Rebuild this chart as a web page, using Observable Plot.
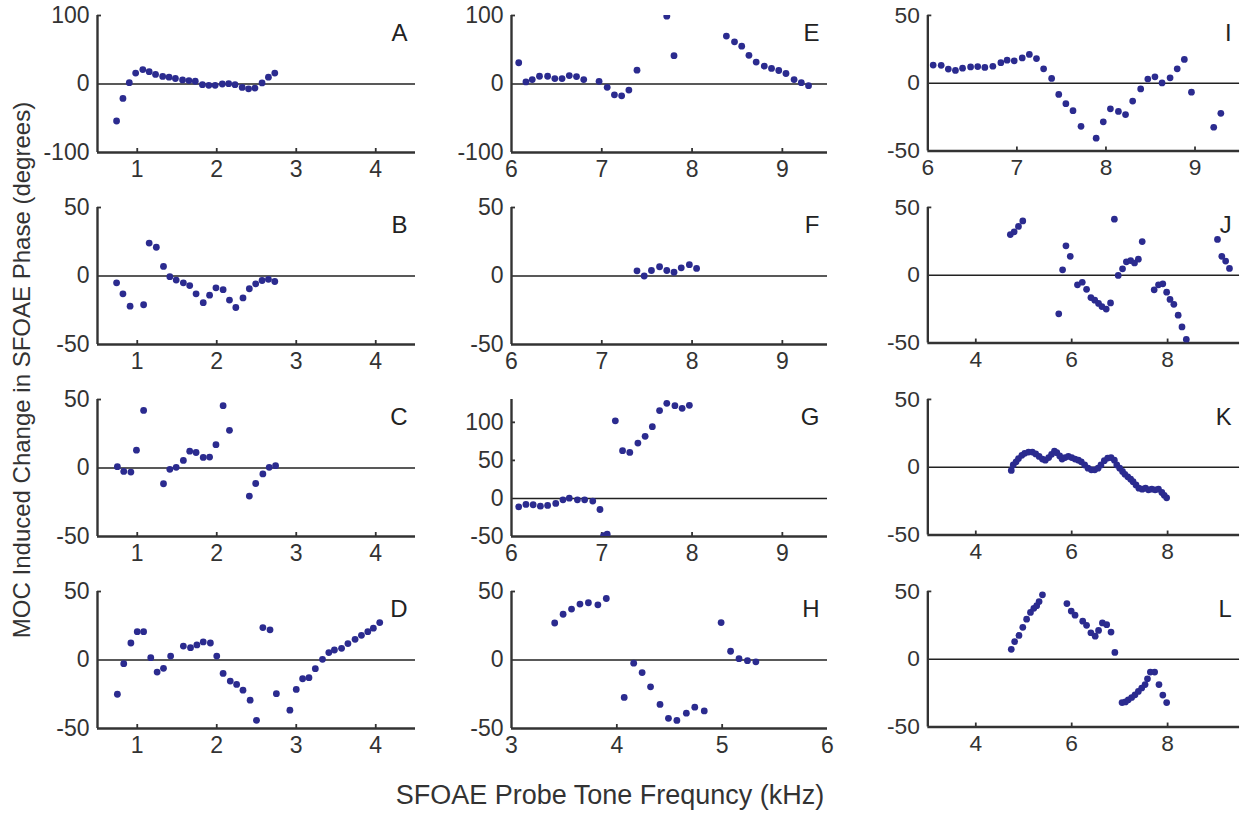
<!DOCTYPE html>
<html><head><meta charset="utf-8">
<script src="https://cdn.jsdelivr.net/npm/d3@7"></script>
<script src="https://cdn.jsdelivr.net/npm/@observablehq/plot@0.6"></script>
<style>
body{margin:0;background:#fff;}
#wrap{position:relative;width:1245px;height:814px;overflow:hidden;font-family:"Liberation Sans",Arial,sans-serif;color:#333;}
.panel{position:absolute;}
#ylab{position:absolute;left:22px;top:370px;transform:translate(-50%,-50%) rotate(-90deg);white-space:nowrap;font-size:24px;}
#xlab{position:absolute;left:610px;top:795px;transform:translate(-50%,-50%);white-space:nowrap;font-size:27px;}
</style></head>
<body><div id="wrap"><div id="ylab">MOC Induced Change in SFOAE Phase (degrees)</div><div id="xlab">SFOAE Probe Tone Frequncy (kHz)</div></div>
<script>
// ---- data (kHz, degrees) ----
const A_freq = [0.74,0.82,0.90,0.98,1.07,1.15,1.23,1.32,1.40,1.48,1.57,1.65,1.73,1.82,1.90,1.98,2.07,2.15,2.23,2.32,2.40,2.48,2.57,2.65,2.73];
const A_phase = [-54,-21,2,16,21,18,14,11,10,8,6,5,4,-1,-2,-2,0,0.5,-1,-5,-7,-6,1.5,10,16];
const B_freq = [0.74,0.82,0.91,1.08,1.15,1.24,1.33,1.41,1.49,1.58,1.66,1.74,1.83,1.91,1.99,2.08,2.16,2.24,2.33,2.41,2.49,2.57,2.65,2.73];
const B_phase = [-5,-13,-22,-21,24,21,7,-0.5,-3,-5,-7,-13,-19.5,-14,-8.6,-10,-17.6,-23,-16,-9.3,-5.7,-3.3,-2.4,-4];
const C_freq = [0.75,0.83,0.92,0.99,1.08,1.33,1.41,1.49,1.58,1.66,1.74,1.83,1.91,1.99,2.08,2.16,2.41,2.49,2.58,2.66,2.74];
const C_phase = [1,-2.5,-3,13,42,-11.5,-1,0.5,5.5,12.3,11.3,7.7,8,17,45.5,27.5,-20.5,-11.3,-4.3,0.5,1.7];
const D_freq = [0.75,0.83,0.92,1.0,1.08,1.17,1.25,1.33,1.42,1.58,1.67,1.75,1.83,1.92,2.0,2.08,2.17,2.25,2.33,2.42,2.5,2.58,2.67,2.75,2.92,3.0,3.08,3.16,3.24,3.33,3.41,3.48,3.57,3.65,3.74,3.82,3.9,3.97,4.05];
const D_phase = [-25,-2.7,12.4,20.7,20.7,1.7,-8.8,-6.1,2.9,10.2,9,11,13.2,12.4,2.9,-9.8,-15.4,-17.8,-22,-29.3,-44,23.7,22,-24.6,-36.6,-21.5,-13.7,-12.9,-6.3,0.5,5.4,7.3,8.5,12,15.1,18,20.7,23.2,27.3];
const E_freq = [6.08,6.16,6.23,6.31,6.40,6.48,6.56,6.64,6.72,6.80,6.97,7.06,7.14,7.22,7.30,7.39,7.72,7.80,8.38,8.47,8.55,8.63,8.71,8.80,8.88,8.96,9.04,9.13,9.21,9.29];
const E_phase = [31,3,6.4,11.3,11.3,7.9,7.9,12.3,10.8,6.4,3.9,-4.9,-15.8,-17.2,-8.9,20.2,99,41.4,70,61.6,55.2,41.9,32,26.1,22.7,19.7,15.3,6.4,2,-2.5];
const F_freq = [7.39,7.47,7.55,7.64,7.72,7.80,7.88,7.97,8.05];
const F_phase = [3.75,0,4,6.75,4,2.75,6,8.25,5.5];
const G_freq = [6.08,6.16,6.24,6.32,6.40,6.49,6.57,6.64,6.73,6.81,6.90,6.98,7.02,7.06,7.15,7.23,7.31,7.40,7.48,7.56,7.64,7.72,7.81,7.89,7.97];
const G_phase = [-11,-7.9,-8.3,-10.1,-9.2,-6.6,-1.8,0.4,-1.8,-1.8,-3.5,-14.5,-49,-47,102,62.7,60.5,72.8,81.6,94.3,115.4,125,121.9,118.4,122.4];
const H_freq = [3.41,3.49,3.57,3.65,3.73,3.82,3.90,4.07,4.16,4.24,4.32,4.41,4.49,4.57,4.66,4.74,4.83,4.99,5.08,5.16,5.24,5.32];
const H_phase = [27,33.4,37.2,40.8,41.8,40.3,44.9,-27.3,-2.3,-9.2,-19.6,-32.4,-42.6,-44.1,-38.8,-34.4,-37.2,27.3,6.4,1,-0.5,-1.3];
const I_freq = [6.06,6.15,6.23,6.31,6.39,6.48,6.56,6.64,6.73,6.82,6.89,6.97,7.06,7.14,7.22,7.30,7.39,7.47,7.55,7.63,7.72,7.89,7.97,8.05,8.14,8.22,8.30,8.39,8.47,8.55,8.63,8.72,8.80,8.88,8.96,9.21,9.29];
const I_phase = [13.4,13.2,10.4,9.4,11.1,12,12.3,11.6,12.5,15.1,17,16.5,18.6,21.2,18.2,10.6,3.5,-8.3,-15.1,-20.3,-31.8,-40.6,-28.5,-18.9,-20.8,-23.1,-13.2,-4.2,3.1,4.7,0.2,4,10.6,17.5,-6.6,-32.5,-22.2];
const J_freq = [4.72,4.80,4.89,4.98,5.73,5.81,5.88,5.97,6.12,6.22,6.31,6.40,6.48,6.56,6.63,6.72,6.81,6.89,6.97,7.06,7.14,7.23,7.31,7.39,7.47,7.72,7.81,7.90,7.98,8.05,8.13,8.22,8.30,8.39,9.04,9.13,9.21,9.29];
const J_phase = [30,32,36,40,-28.5,4,21.7,13.9,-7.1,-5.2,-10.4,-16.5,-18.4,-20.8,-23.1,-25,-20.5,41.3,-0.2,4.7,9.9,10.8,9,11.8,24.8,-10.8,-7.1,-6.4,-12.5,-17.9,-21.5,-29.5,-38.2,-47.4,26.4,13.9,10.4,5];
const K_freq = [4.74,4.78,4.84,4.89,4.96,5.02,5.10,5.18,5.25,5.32,5.39,5.45,5.52,5.58,5.64,5.69,5.75,5.80,5.86,5.93,6.00,6.07,6.14,6.20,6.27,6.34,6.41,6.48,6.55,6.61,6.68,6.75,6.82,6.89,6.94,7.00,7.06,7.11,7.17,7.23,7.28,7.34,7.40,7.47,7.54,7.60,7.67,7.74,7.81,7.88,7.93,7.98];
const K_phase = [-2.4,1.7,4,6.4,8.8,10.2,11.2,11.2,9.8,7.9,6,5.2,7.1,9.5,11.9,10.7,8.3,6,7.1,7.9,7.1,6,5.2,4,1.7,-0.7,-1.9,-1.9,-0.7,1.7,4.8,6.7,7.1,5.2,1.7,-0.7,-3.1,-5.2,-7.1,-8.8,-10.7,-13.1,-15.5,-16.2,-15.5,-16.7,-16.2,-16.7,-16.2,-18.6,-20.7,-22.6];
const L_freq = [4.74,4.81,4.90,4.98,5.06,5.14,5.21,5.27,5.32,5.39,5.90,5.99,6.07,6.23,6.31,6.40,6.49,6.56,6.64,6.73,6.82,6.90,7.05,7.12,7.18,7.25,7.32,7.39,7.46,7.53,7.58,7.64,7.73,7.82,7.90,7.98];
const L_phase = [7.25,13,17.5,23.5,29.5,34.5,37.5,39.5,42.5,47.5,41,35.5,32.5,28,25,19.5,17,21.25,26.75,25.5,20,5,-32,-31.5,-30,-28.25,-26.25,-23.75,-21.25,-18.75,-14.5,-9.5,-9.5,-18.75,-26.5,-32];

// ---- axes: domains and tick labels ----
const xDomLow = [0.5, 4.5], xDomHigh = [6, 9.5], xDomH = [3, 6], xDomWide = [3, 9.5];
const xTicksLow = [1, 2, 3, 4], xTicksHigh = [6, 7, 8, 9], xTicksH = [3, 4, 5, 6], xTicksWide = [4, 6, 8];
const yDom100 = [-100, 100], yDom50 = [-50, 50], yDomG = [-50, 130];
const yTicks100 = [-100, 0, 100], yTicks50 = [-50, 0, 50], yTicksG = [-50, 0, 50, 100];
const letters = ["A","B","C","D","E","F","G","H","I","J","K","L"];

const panels = [
  {fx:A_freq, fy:A_phase, xd:xDomLow, xt:xTicksLow, yd:yDom100, yt:yTicks100},
  {fx:B_freq, fy:B_phase, xd:xDomLow, xt:xTicksLow, yd:yDom50, yt:yTicks50},
  {fx:C_freq, fy:C_phase, xd:xDomLow, xt:xTicksLow, yd:yDom50, yt:yTicks50},
  {fx:D_freq, fy:D_phase, xd:xDomLow, xt:xTicksLow, yd:yDom50, yt:yTicks50},
  {fx:E_freq, fy:E_phase, xd:xDomHigh, xt:xTicksHigh, yd:yDom100, yt:yTicks100},
  {fx:F_freq, fy:F_phase, xd:xDomHigh, xt:xTicksHigh, yd:yDom50, yt:yTicks50},
  {fx:G_freq, fy:G_phase, xd:xDomHigh, xt:xTicksHigh, yd:yDomG, yt:yTicksG},
  {fx:H_freq, fy:H_phase, xd:xDomH, xt:xTicksH, yd:yDom50, yt:yTicks50},
  {fx:I_freq, fy:I_phase, xd:xDomHigh, xt:xTicksHigh, yd:yDom50, yt:yTicks50},
  {fx:J_freq, fy:J_phase, xd:xDomWide, xt:xTicksWide, yd:yDom50, yt:yTicks50},
  {fx:K_freq, fy:K_phase, xd:xDomWide, xt:xTicksWide, yd:yDom50, yt:yTicks50},
  {fx:L_freq, fy:L_phase, xd:xDomWide, xt:xTicksWide, yd:yDom50, yt:yTicks50}
];

// ---- layout ----
const colX = [97, 511, 928], colW = [318, 316, 315];
const rowY = [15, 207, 399, 591], PH = 137;
const mL = 64, mR = 6, mT = 8, mB = 36;
const dotColor = "#2b2b8f", axisColor = "#333";
const wrap = document.getElementById("wrap");

panels.forEach((p, i) => {
  const col = Math.floor(i / 4), row = i % 4;
  const W = colW[col];
  const data = p.fx.map((x, k) => ({x, y: p.fy[k]}));
  const chart = Plot.plot({
    width: W + mL + mR, height: PH + mT + mB,
    marginLeft: mL, marginRight: mR, marginTop: mT, marginBottom: mB,
    style: {fontFamily: '"Liberation Sans", Arial, sans-serif', fontSize: "23px", color: axisColor, background: "transparent", overflow: "visible"},
    x: {domain: p.xd},
    y: {domain: p.yd},
    marks: [
      Plot.ruleY([0], {stroke: "#222", strokeWidth: 1.6}),
      Plot.tickX(p.xt.filter(t => t > p.xd[0] && t < p.xd[1]), {x: d => d, insetTop: PH - 4, stroke: axisColor, strokeWidth: 1.8}),
      Plot.tickY(p.yt.filter(t => t > p.yd[0] && t !== 0), {y: d => d, insetRight: W - 4, stroke: axisColor, strokeWidth: 1.8}),
      Plot.axisX({ticks: p.xt, tickSize: 0, tickPadding: 8, tickFormat: d => String(d), label: null}),
      Plot.axisY({ticks: p.yt, tickSize: 0, tickPadding: 8, tickFormat: d => String(d), label: null}),
      Plot.ruleX([p.xd[0]], {stroke: axisColor, strokeWidth: 2.4}),
      Plot.ruleY([p.yd[0]], {stroke: axisColor, strokeWidth: 2.4}),
      Plot.dot(data, {x: "x", y: "y", r: 3.4, fill: dotColor, clip: true}),
      Plot.text([letters[i]], {text: d => d, frameAnchor: "top-right", dx: -8, dy: 18, textAnchor: "end", lineAnchor: "middle", fontSize: 24, fill: "#222"})
    ]
  });
  const div = document.createElement("div");
  div.className = "panel";
  div.style.left = (colX[col] - mL) + "px";
  div.style.top = (rowY[row] - mT) + "px";
  div.appendChild(chart);
  wrap.appendChild(div);
});
</script></body></html>
